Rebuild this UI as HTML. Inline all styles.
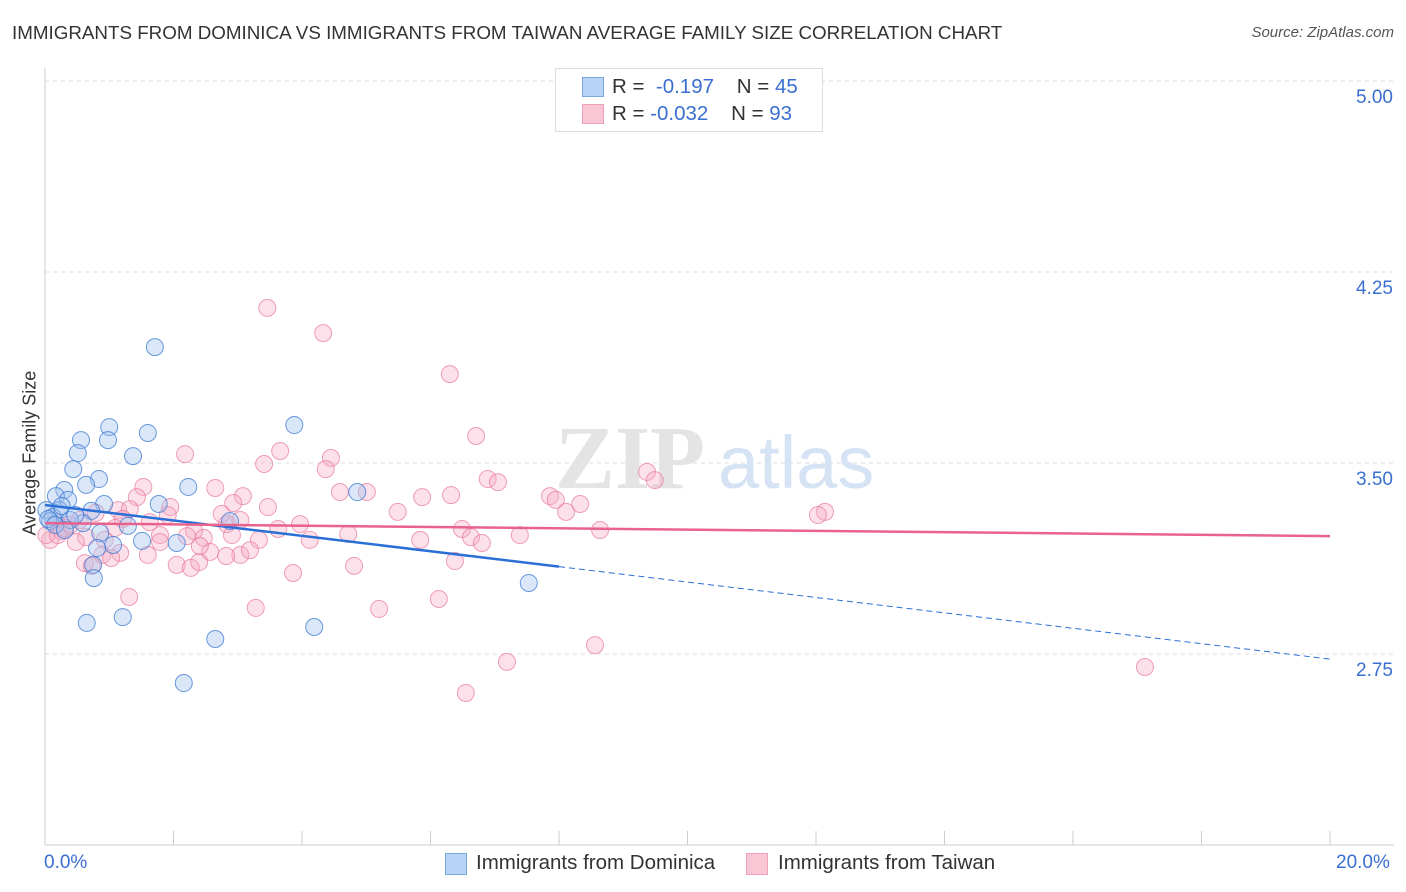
<!DOCTYPE html>
<html><head><meta charset="utf-8">
<style>
body{margin:0;background:#fff;font-family:"Liberation Sans",sans-serif;}
#wrap{position:relative;width:1406px;height:892px;overflow:hidden;}
.t{position:absolute;white-space:nowrap;}
</style></head>
<body>
<div id="wrap">
<div class="t" style="left:12px;top:22px;font-size:18.8px;color:#333;">IMMIGRANTS FROM DOMINICA VS IMMIGRANTS FROM TAIWAN AVERAGE FAMILY SIZE CORRELATION CHART</div>
<div class="t" style="right:12px;top:24px;font-size:15px;color:#555;font-style:italic;">Source: ZipAtlas.com</div>
<svg id="svg" width="1406" height="892" style="position:absolute;left:0;top:0"></svg>
<div style="position:absolute;left:555px;top:68px;width:266px;height:62px;border:1px solid #ddd;background:#fff;font-size:20.5px;">
 <div style="position:absolute;left:26px;top:8px;width:20px;height:18px;background:#b8d3f5;border:1px solid #7aa6e0"></div>
 <div class="t" style="left:56px;top:6px;color:#333">R = &nbsp;<span style="color:#3a6fd0">-0.197</span>&nbsp;&nbsp;&nbsp; N = <span style="color:#3a6fd0">45</span></div>
 <div style="position:absolute;left:26px;top:35px;width:20px;height:18px;background:#f9c6d5;border:1px solid #eea0b8"></div>
 <div class="t" style="left:56px;top:33px;color:#333">R = <span style="color:#3a6fd0">-0.032</span>&nbsp;&nbsp;&nbsp; N = <span style="color:#3a6fd0">93</span></div>
</div>
<div class="t" style="left:-50px;top:445px;font-size:18px;color:#333;transform:rotate(-90deg);width:160px;text-align:center;">Average Family Size</div>
<div class="t" style="left:44px;top:852px;font-size:19px;color:#3a6fd0">0.0%</div>
<div class="t" style="left:1336px;top:852px;font-size:19px;color:#3a6fd0">20.0%</div>
<div style="position:absolute;left:445px;top:853px;width:20px;height:20px;background:#b8d3f5;border:1px solid #7aa6e0"></div>
<div class="t" style="left:476px;top:851px;font-size:20.5px;color:#333">Immigrants from Dominica</div>
<div style="position:absolute;left:746px;top:853px;width:20px;height:20px;background:#f9c6d5;border:1px solid #eea0b8"></div>
<div class="t" style="left:778px;top:851px;font-size:20.5px;color:#333">Immigrants from Taiwan</div>
</div>
<script>
const yTicks=[5.00,4.25,3.50,2.75];
const yTickLabels=["5.00","4.25","3.50","2.75"];
const blueX=[1.71,3.88,1.00,1.60,0.56,0.98,1.37,0.51,0.44,0.84,0.64,2.23,0.30,0.17,0.36,4.86,0.92,1.77,0.22,0.02,0.72,0.12,0.08,2.88,1.29,0.59,0.86,1.51,2.05,1.06,0.81,0.75,0.76,7.53,1.21,0.65,2.65,4.19,2.16,0.26,0.05,0.39,0.16,0.47,0.31];
const blueY=[3.955,3.649,3.641,3.618,3.590,3.590,3.527,3.539,3.476,3.437,3.414,3.406,3.394,3.370,3.355,3.386,3.339,3.339,3.315,3.315,3.312,3.288,3.272,3.272,3.253,3.264,3.225,3.194,3.186,3.178,3.166,3.100,3.048,3.029,2.895,2.872,2.809,2.856,2.636,3.331,3.280,3.276,3.257,3.296,3.237];
const pinkX=[3.46,4.33,6.30,6.71,2.18,3.66,4.45,4.37,3.41,9.37,9.49,6.89,7.05,1.53,2.65,4.59,5.01,5.87,6.32,7.86,7.95,1.43,3.08,2.93,8.33,1.95,3.47,5.49,8.11,1.14,1.32,12.14,12.03,1.91,1.21,3.97,6.49,0.17,0.39,2.83,3.63,2.32,4.72,6.63,6.80,1.79,2.21,2.47,2.91,0.25,0.64,0.48,0.93,3.33,2.57,3.04,2.82,3.19,1.17,1.60,0.89,1.03,0.62,0.73,2.05,2.27,2.40,4.81,6.38,3.86,1.31,6.13,3.28,5.20,8.56,7.19,17.12,6.55,0.08,0.02,0.31,0.20,0.54,0.79,1.09,1.63,1.79,2.41,2.75,3.04,4.12,5.84,7.39,8.64];
const pinkY=[4.109,4.010,3.849,3.606,3.535,3.547,3.520,3.476,3.496,3.465,3.433,3.437,3.425,3.406,3.402,3.386,3.386,3.366,3.374,3.370,3.355,3.366,3.370,3.343,3.339,3.327,3.327,3.308,3.308,3.315,3.319,3.308,3.296,3.296,3.280,3.260,3.241,3.268,3.257,3.260,3.241,3.233,3.221,3.209,3.186,3.217,3.213,3.206,3.217,3.233,3.209,3.190,3.198,3.198,3.151,3.139,3.135,3.158,3.147,3.139,3.139,3.127,3.107,3.096,3.100,3.088,3.111,3.096,3.115,3.068,2.974,2.966,2.931,2.927,2.785,2.719,2.699,2.597,3.198,3.217,3.245,3.217,3.276,3.304,3.245,3.268,3.190,3.174,3.300,3.276,3.198,3.198,3.217,3.237];
const blueTrend=[3.335,2.73];
const pinkTrend=[3.264,3.213];
const blueSolidEnd=8.0;

const sx=v=>45+v*64.25;
const sy=v=>463-(v-3.5)*254.67;
const svg=document.getElementById('svg');
const NS='http://www.w3.org/2000/svg';
function mk(tag,attrs){const e=document.createElementNS(NS,tag);for(const k in attrs)e.setAttribute(k,attrs[k]);svg.appendChild(e);return e;}
let ax=mk('line',{x1:45,y1:68,x2:45,y2:845,stroke:'#ccc','stroke-width':1});


let bx=mk('line',{x1:45,y1:845,x2:1394,y2:845,stroke:'#ccc','stroke-width':1});


for(let i=0;i<=10;i++){const t=mk('line',{x1:sx(i*2),y1:831,x2:sx(i*2),y2:845,stroke:'#ccc'});

}
yTicks.forEach((v,i)=>{const g=mk('line',{x1:45,y1:sy(v),x2:1394,y2:sy(v),stroke:'#ddd','stroke-dasharray':'4,4'});


const t=mk('text',{x:1393,y:sy(v)+22,'text-anchor':'end','font-size':19,fill:'#3a6fd0','font-family':'Liberation Sans, sans-serif'});
t.textContent=yTickLabels[i];

});
let w=mk('text',{x:555,y:488,'font-size':90,fill:'#e4e4e4','font-family':'Liberation Serif, serif','font-weight':'bold'});w.textContent='ZIP';


let w2=mk('text',{x:718,y:488,'font-size':74,fill:'#d5e3f5','font-family':'Liberation Sans, sans-serif'});w2.textContent='atlas';


pinkX.forEach((x,i)=>{const c=mk('circle',{cx:sx(x),cy:sy(pinkY[i]),r:8.5,fill:'rgba(246,170,195,0.35)',stroke:'rgba(232,120,155,0.7)','stroke-width':1});

});
blueX.forEach((x,i)=>{const c=mk('circle',{cx:sx(x),cy:sy(blueY[i]),r:8.5,fill:'rgba(160,195,240,0.4)',stroke:'rgba(60,120,210,0.75)','stroke-width':1});

});
const bt=x=>blueTrend[0]+(blueTrend[1]-blueTrend[0])*x/20;
let l1=mk('line',{x1:sx(0),y1:sy(bt(0)),x2:sx(blueSolidEnd),y2:sy(bt(blueSolidEnd)),stroke:'#2a6fd6','stroke-width':2.5});


let l2=mk('line',{x1:sx(blueSolidEnd),y1:sy(bt(blueSolidEnd)),x2:sx(20),y2:sy(bt(20)),stroke:'#2a6fd6','stroke-width':1,'stroke-dasharray':'6,4'});


let l3=mk('line',{x1:sx(0),y1:sy(pinkTrend[0]),x2:sx(20),y2:sy(pinkTrend[1]),stroke:'#e8628c','stroke-width':2.5});


</script>
</body></html>
